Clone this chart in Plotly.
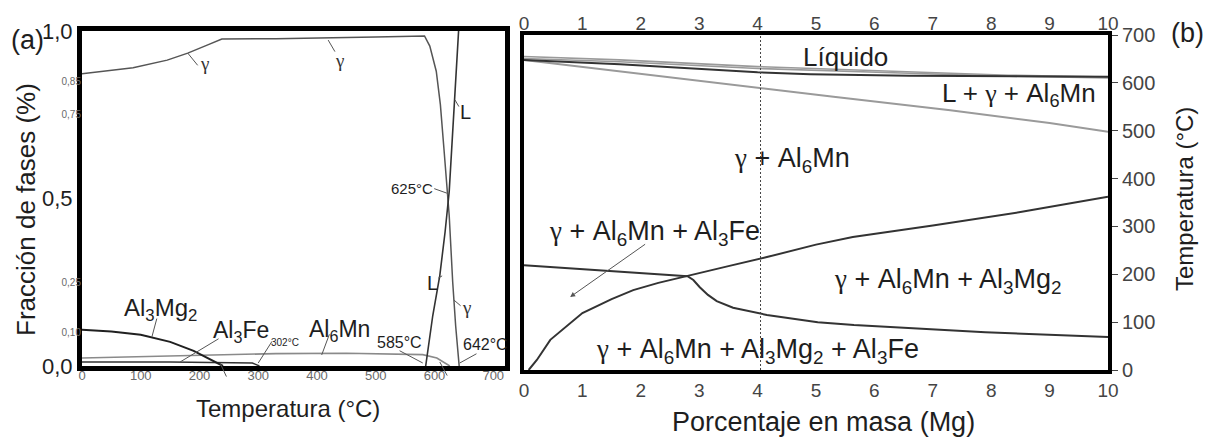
import plotly.graph_objects as go

FONT = "Arial, Liberation Sans, sans-serif"
INK = "#1e1e1e"
DARK = "#333333"
MID = "#555555"
LIGHT = "#9a9a9a"
G = '<span style="font-family:Liberation Serif, Times New Roman, serif">γ</span>'

# ── (a) fracción de fases vs temperatura ─────────────────────────────────────
gam_T = [0, 87, 145, 180, 213, 238, 330, 420, 500, 583, 592, 603, 610, 616, 621, 625, 631, 636, 642]
gam_f = [0.872, 0.89, 0.913, 0.934, 0.958, 0.976, 0.977, 0.979, 0.982, 0.985,
         0.955, 0.88, 0.78, 0.65, 0.53, 0.45, 0.25, 0.12, 0.0]
liq_T = [585, 597, 609, 618, 625, 630, 634, 638, 641]
liq_f = [0.0, 0.15, 0.27, 0.40, 0.52, 0.68, 0.80, 0.92, 1.0]
mg2_T = [0, 50, 100, 150, 190, 215, 240]
mg2_f = [0.108, 0.103, 0.093, 0.072, 0.045, 0.022, 0.0]
fe_T = [0, 150, 290, 302]
fe_f = [0.012, 0.012, 0.009, 0.0]
mn_T = [0, 150, 330, 450, 580, 604, 626]
mn_f = [0.024, 0.03, 0.037, 0.038, 0.034, 0.024, 0.0]

a_xticks = [0, 100, 200, 300, 400, 500, 600, 700]
a_big_vals = [0.0, 0.5, 1.0]
a_big_text = ["0,0", "0,5", "1,0"]
a_small_vals = [0.10, 0.25, 0.75, 0.85]
a_small_text = ["0,10", "0,25", "0,75", "0,85"]

# ── (b) diagrama de fases vs % Mg ────────────────────────────────────────────
mg_top = [0, 1.64, 4.0, 4.9, 6.6, 8.3, 10]
T_liq1 = [655, 648, 634, 630, 623, 616, 612]
T_liq2 = [651, 644, 630, 626, 620, 614, 610]
T_sol = [648, 639, 622, 618, 615, 614, 613]
mg_low = [0, 1.64, 4.0, 5.3, 7.3, 9.0, 10]
T_low = [648, 624, 589, 571, 543, 516, 498]
mg_mg2 = [0.08, 0.22, 0.45, 1.0, 1.5, 1.87, 2.3, 2.8, 3.5, 4.16, 5.0, 5.63, 7.0, 8.5, 10.0]
T_mg2 = [0, 21, 63, 119, 148, 167, 182, 196, 217, 236, 262, 278, 302, 330, 362]
mg_fe = [0, 1.0, 2.0, 2.8, 2.9, 3.01, 3.15, 3.3, 3.58, 4.16, 5.03, 5.65, 7.9, 10.0]
T_fe = [219, 211, 203, 196, 188, 173, 157, 144, 130, 115, 100, 94, 79, 69]
mg_ref = 4.05

b_xticks = list(range(0, 11))
b_yticks = list(range(0, 701, 100))

W, H = 1212, 439


def px_x(p):
    return p / W


def px_y(p):
    return 1 - p / H


fig = go.Figure()

# curvas (a)
fig.add_trace(go.Scatter(x=mn_T, y=mn_f, mode="lines", line=dict(color="#8a8a8a", width=1.6),
                         xaxis="x", yaxis="y"))
fig.add_trace(go.Scatter(x=fe_T, y=fe_f, mode="lines", line=dict(color=DARK, width=1.4),
                         xaxis="x", yaxis="y"))
fig.add_trace(go.Scatter(x=mg2_T, y=mg2_f, mode="lines", line=dict(color="#202020", width=2),
                         xaxis="x", yaxis="y"))
fig.add_trace(go.Scatter(x=gam_T, y=gam_f, mode="lines", line=dict(color=MID, width=1.5),
                         xaxis="x", yaxis="y"))
fig.add_trace(go.Scatter(x=liq_T, y=liq_f, mode="lines", line=dict(color=DARK, width=1.6),
                         xaxis="x", yaxis="y"))
# eje superpuesto de rótulos pequeños (sin marcas visibles)
fig.add_trace(go.Scatter(x=[0], y=[0], mode="markers", marker=dict(opacity=0),
                         hoverinfo="skip", xaxis="x", yaxis="y2"))

# curvas (b)
fig.add_trace(go.Scatter(x=mg_top, y=T_liq1, mode="lines", line=dict(color=LIGHT, width=1.6),
                         xaxis="x2", yaxis="y3"))
fig.add_trace(go.Scatter(x=mg_top, y=T_liq2, mode="lines", line=dict(color=LIGHT, width=1.6),
                         xaxis="x2", yaxis="y3"))
fig.add_trace(go.Scatter(x=mg_low, y=T_low, mode="lines", line=dict(color=LIGHT, width=2),
                         xaxis="x2", yaxis="y3"))
fig.add_trace(go.Scatter(x=mg_top, y=T_sol, mode="lines", line=dict(color=DARK, width=2),
                         xaxis="x2", yaxis="y3"))
fig.add_trace(go.Scatter(x=mg_mg2, y=T_mg2, mode="lines", line=dict(color=DARK, width=2),
                         xaxis="x2", yaxis="y3"))
fig.add_trace(go.Scatter(x=mg_fe, y=T_fe, mode="lines", line=dict(color=DARK, width=2),
                         xaxis="x2", yaxis="y3"))
fig.add_trace(go.Scatter(x=[mg_ref, mg_ref], y=[0, 700], mode="lines",
                         line=dict(color="#444444", width=1, dash="2px,2px"),
                         xaxis="x2", yaxis="y3"))
# eje superior (b)
fig.add_trace(go.Scatter(x=[0], y=[0], mode="markers", marker=dict(opacity=0),
                         hoverinfo="skip", xaxis="x3", yaxis="y3"))

frame = dict(showline=True, mirror=True, linecolor="black", showgrid=False, zeroline=False)

fig.update_layout(
    width=W, height=H,
    autosize=False,
    paper_bgcolor="white", plot_bgcolor="white",
    margin=dict(l=0, r=0, t=0, b=0, autoexpand=False),
    showlegend=False,
    font=dict(family=FONT, color=INK),
    xaxis=dict(domain=[px_x(82), px_x(505)], range=[0, 720], tickvals=a_xticks,
               ticks="", tickfont=dict(size=13, color="#6a6a6a"), linewidth=5,
               ticklabelstandoff=-7, anchor="y", **frame),
    yaxis=dict(domain=[px_y(366), px_y(31)], range=[0, 1], tickvals=a_big_vals,
               ticktext=a_big_text, ticks="", tickfont=dict(size=22, color=INK),
               linewidth=5, anchor="x", **frame),
    yaxis2=dict(overlaying="y", range=[0, 1], tickvals=a_small_vals, ticktext=a_small_text,
                ticks="", tickfont=dict(size=10, color="#6a6a6a"), showgrid=False,
                zeroline=False, showline=False, anchor="x", side="left"),
    xaxis2=dict(domain=[px_x(524), px_x(1108)], range=[0, 10], tickvals=b_xticks,
                ticks="", tickfont=dict(size=19, color="#444444"), linewidth=4,
                anchor="y3", **frame),
    xaxis3=dict(overlaying="x2", range=[0, 10], tickvals=b_xticks, side="top",
                ticks="", tickfont=dict(size=19, color="#444444"), showgrid=False,
                zeroline=False, showline=False, anchor="y3"),
    yaxis3=dict(domain=[px_y(370), px_y(35)], range=[0, 700], tickvals=b_yticks,
                side="right", ticks="outside", ticklen=6, tickcolor="#444444",
                tickfont=dict(size=20, color="#444444"), linewidth=4, anchor="x2", **frame),
)

ann = []


def txt(text, x, y, size, color=INK, xref="x", yref="y", **kw):
    ann.append(dict(text=text, x=x, y=y, xref=xref, yref=yref, showarrow=False,
                    xanchor="center", yanchor="middle",
                    font=dict(size=size, color=color, family=FONT), **kw))


def lead(x0, y0, x1, y1, xref="x", yref="y", head=0, color="#555555"):
    ann.append(dict(text="", x=x1, y=y1, ax=x0, ay=y0, xref=xref, yref=yref,
                    axref=xref, ayref=yref, showarrow=True, arrowhead=head,
                    arrowsize=1, arrowwidth=1, arrowcolor=color, standoff=0, startstandoff=0))


# (a) etiquetas
txt(G, 209, 0.904, 19, "#333333")
lead(199, 0.893, 180, 0.934)
txt(G, 439, 0.913, 19, "#333333")
lead(432, 0.934, 419, 0.973)
txt("L", 652, 0.758, 20)
lead(643, 0.770, 635, 0.794)
txt("625°C", 562, 0.531, 15)
lead(597, 0.531, 621, 0.516)
txt("L", 596, 0.248, 20)
lead(604, 0.26, 613, 0.269)
txt(G, 655, 0.176, 19, "#333333")
lead(647, 0.176, 633, 0.197)
txt("Al<sub>3</sub>Mg<sub>2</sub>", 133, 0.17, 24)
lead(128, 0.146, 119, 0.087)
txt("Al<sub>3</sub>Fe", 271, 0.104, 23)
lead(235, 0.084, 167, 0.012)
txt("302°C", 345, 0.069, 10)
lead(325, 0.078, 300, 0.009)
txt("240°C", 252, -0.057, 10)
lead(247, -0.036, 235, 0.009)
txt("Al<sub>6</sub>Mn", 439, 0.107, 23)
lead(422, 0.099, 408, 0.033)
txt("585°C", 541, 0.069, 16)
lead(538, 0.048, 580, 0.009)
txt("642°C", 686, 0.063, 16)
lead(674, 0.039, 643, 0.009)
txt("624°C", 647, -0.051, 10)
lead(623, -0.033, 609, 0.012)

# (b) etiquetas
txt("Líquido", 5.51, 654, 26, xref="x2", yref="y3")
txt("L + " + G + " + Al<sub>6</sub>Mn", 8.48, 575, 26, xref="x2", yref="y3")
txt(G + " + Al<sub>6</sub>Mn", 4.59, 438, 27, xref="x2", yref="y3")
txt(G + " + Al<sub>6</sub>Mn + Al<sub>3</sub>Fe", 2.24, 286, 27, xref="x2", yref="y3")
txt(G + " + Al<sub>6</sub>Mn + Al<sub>3</sub>Mg<sub>2</sub>", 7.26, 185, 27,
    xref="x2", yref="y3")
txt(G + " + Al<sub>6</sub>Mn + Al<sub>3</sub>Mg<sub>2</sub> + Al<sub>3</sub>Fe", 3.99, 39, 27,
    xref="x2", yref="y3")
lead(2.1, 265, 0.79, 152.5, xref="x2", yref="y3", head=2)

# títulos y rótulos de panel
txt("(a)", px_x(27), px_y(40), 27, xref="paper", yref="paper")
txt("(b)", px_x(1187), px_y(33), 27, xref="paper", yref="paper")
txt("Fracción de fases (%)", px_x(26), px_y(210), 26, xref="paper", yref="paper", textangle=-90)
txt("Temperatura (°C)", px_x(288), px_y(408), 24, xref="paper", yref="paper")
txt("Porcentaje en masa (Mg)", px_x(823), px_y(422), 27, xref="paper", yref="paper")
txt("Temperatura (°C)", px_x(1184), px_y(199), 24, xref="paper", yref="paper", textangle=-90)

fig.update_layout(annotations=ann)

fig.write_html(
    "out.html",
    config={"displayModeBar": False, "responsive": False},
    post_script="document.body.style.margin='0';document.body.style.overflow='hidden';",
)
